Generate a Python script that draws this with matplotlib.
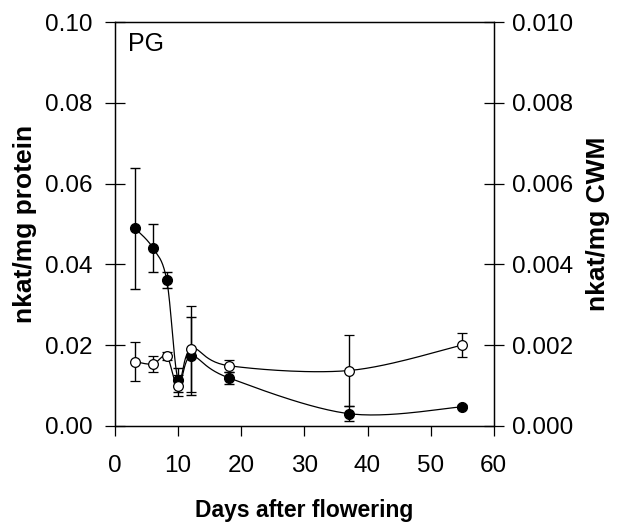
import numpy as np
import matplotlib
matplotlib.use("Agg")
import matplotlib.pyplot as plt

plt.rcParams["font.family"] = ["Liberation Sans", "DejaVu Sans"]

# days after flowering
days = [3.2, 6.0, 8.2, 10.0, 12.1, 18.0, 37.1, 55.0]
# filled circles, nkat/mg protein (left axis)
protein = [0.0489, 0.0441, 0.0361, 0.0114, 0.0173, 0.0119, 0.0030, 0.0047]
protein_err = [0.0150, 0.0060, 0.0020, 0.0030, 0.0097, 0.0015, 0.0018, 0.0004]
# open circles, nkat/mg CWM (right axis)
cwm = [0.00159, 0.00153, 0.00172, 0.00099, 0.00191, 0.00149, 0.00137, 0.00200]
cwm_err = [0.00048, 0.00020, 0.00010, 0.00026, 0.00107, 0.00015, 0.00087, 0.00030]


def smooth(x, y, xspan, yspan, n=30):
    # Catmull-Rom style bezier smoothing in normalised axes space
    px = np.asarray(x, float) / xspan
    py = np.asarray(y, float) / yspan
    pts = np.column_stack([px, py])
    ext = np.vstack([pts[0], pts, pts[-1]])
    out = []
    t = np.linspace(0, 1, n)[:, None]
    for i in range(1, len(ext) - 2):
        p0, p1, p2, p3 = ext[i - 1], ext[i], ext[i + 1], ext[i + 2]
        c1 = p1 + (p2 - p0) / 6
        c2 = p2 - (p3 - p1) / 6
        seg = ((1 - t) ** 3) * p1 + 3 * ((1 - t) ** 2) * t * c1 \
            + 3 * (1 - t) * t ** 2 * c2 + t ** 3 * p2
        out.append(seg)
    out = np.vstack(out)
    return out[:, 0] * xspan, out[:, 1] * yspan


fig = plt.figure(figsize=(6.18, 5.27), dpi=100)
ax = fig.add_axes([0.186, 0.192, 0.613, 0.766])
ax2 = ax.twinx()

sx, sy = smooth(days, protein, 60, 0.10)
ax.plot(sx, sy, color="black", lw=0.9)
ax.errorbar(days, protein, yerr=protein_err, fmt="o", color="black",
            ms=7, capsize=3.5, elinewidth=1.0, capthick=1.0)

sx, sy = smooth(days, cwm, 60, 0.010)
ax2.plot(sx, sy, color="black", lw=0.9)
ax2.errorbar(days, cwm, yerr=cwm_err, fmt="o", color="black", mfc="white",
             mec="black", mew=0.9, ms=7, capsize=3.5, elinewidth=1.0,
             capthick=1.0)

ax.set_xlim(0, 60)
ax.set_ylim(0, 0.10)
ax2.set_ylim(0, 0.010)
ax.set_xticks(range(0, 61, 10))
ax.set_yticks(np.arange(0, 0.101, 0.02))
ax2.set_yticks(np.arange(0, 0.0101, 0.002))
ax.yaxis.set_major_formatter(matplotlib.ticker.FormatStrFormatter("%.2f"))
ax2.yaxis.set_major_formatter(matplotlib.ticker.FormatStrFormatter("%.3f"))

ax.tick_params(axis="x", direction="out", length=7, width=0.9, labelsize=17.5, pad=14)
ax.tick_params(axis="y", direction="inout", length=14, width=0.9, labelsize=17.5, pad=9)
ax2.tick_params(axis="y", direction="inout", length=14, width=0.9, labelsize=17.5, pad=6)

for a in (ax, ax2):
    for s in a.spines.values():
        s.set_linewidth(0.9)

ax.set_xlabel("Days after flowering", fontsize=16.5, fontweight="bold", labelpad=16)
ax.set_ylabel("nkat/mg protein", fontsize=19, fontweight="bold", labelpad=6)
ax2.set_ylabel("nkat/mg CWM", fontsize=19, fontweight="bold", labelpad=9)

ax.text(0.034, 0.975, "PG", transform=ax.transAxes, fontsize=18,
        ha="left", va="top")

fig.savefig("out.png", dpi=100)
